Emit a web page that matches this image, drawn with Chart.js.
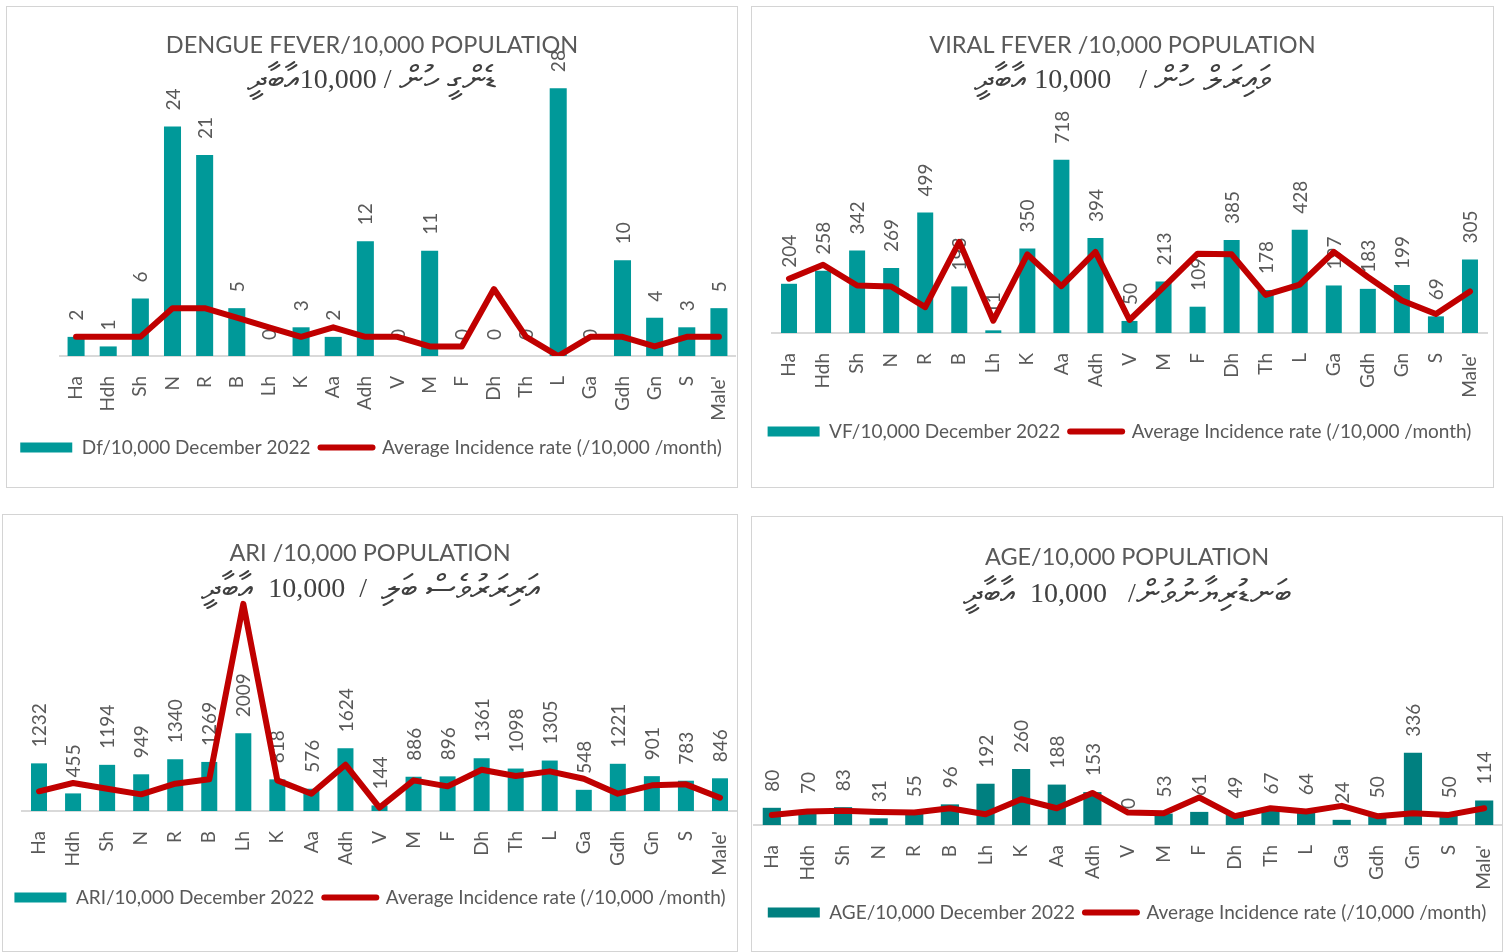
<!DOCTYPE html>
<html>
<head>
<meta charset="utf-8">
<script src="https://cdn.jsdelivr.net/npm/chart.js@4.4.1/dist/chart.umd.min.js"></script>
<style>
  body { margin: 0; background: #fff; width: 1503px; height: 952px; overflow: hidden; position: relative; }
  .panel { position: absolute; border: 1px solid #d4d4d4; box-sizing: border-box; background: #fff; }
  .panel canvas { display: block; }
</style>
</head>
<body>
<div class="panel" style="left:6px;top:6px;width:732px;height:482px"><canvas id="dengue" width="730" height="480"></canvas></div>
<div class="panel" style="left:751px;top:6px;width:743px;height:482px"><canvas id="viral" width="741" height="480"></canvas></div>
<div class="panel" style="left:2px;top:514px;width:736px;height:438px"><canvas id="ari" width="734" height="436"></canvas></div>
<div class="panel" style="left:751px;top:516px;width:752px;height:436px"><canvas id="age" width="750" height="434"></canvas></div>

<script>
// atolls / districts on the x axis
const districts = ['Ha', 'Hdh', 'Sh', 'N', 'R', 'B', 'Lh', 'K', 'Aa', 'Adh', 'V', 'M', 'F', 'Dh', 'Th', 'L', 'Ga', 'Gdh', 'Gn', 'S', "Male'"];

const avgLabel = 'Average Incidence rate (/10,000 /month)';

// dengue fever
const dfRate = [2, 1, 6, 24, 21, 5, 0, 3, 2, 12, 0, 11, 0, 0, 0, 28, 0, 10, 4, 3, 5];
const dfAverage = [2, 2, 2, 5, 5, 4, 3, 2, 3, 2, 2, 1, 1, 7, 2, 0, 2, 2, 1, 2, 2];

// viral fever
const vfRate = [204, 258, 342, 269, 499, 193, 11, 350, 718, 394, 50, 213, 109, 385, 178, 428, 197, 183, 199, 69, 305];
const vfAverage = [225, 283, 197, 193, 107, 378, 51, 326, 194, 336, 54, 190, 329, 326, 158, 201, 336, 232, 135, 79, 172];

// ARI
const ariRate = [1232, 455, 1194, 949, 1340, 1269, 2009, 818, 576, 1624, 144, 886, 896, 1361, 1098, 1305, 548, 1221, 901, 783, 846];
const ariAverage = [509, 724, 577, 431, 706, 819, 5358, 793, 448, 1197, 86, 793, 638, 1068, 904, 1025, 835, 448, 663, 689, 344];

// AGE
const ageRate = [80, 70, 83, 31, 55, 96, 192, 260, 188, 153, 0, 53, 61, 49, 67, 64, 24, 50, 336, 50, 114];
const ageAverage = [47, 63, 66, 61, 58, 78, 50, 120, 78, 149, 58, 55, 128, 41, 78, 63, 89, 41, 55, 47, 78];

// dhivehi subtitles, pieces in the order they appear from left to right
const dfSub = ['އާބާދީ', '10,000', ' / ', 'ޑެންގީ ހުން'];
const vfSub = ['އާބާދީ', ' 10,000', '    / ', 'ވައިރަލް ހުން'];
const ariSub = ['އާބާދީ', '  10,000', '  /  ', 'އަރިރަރުވެސް ބަލި'];
const ageSub = ['އާބާދީ', '  10,000', '   /', 'ބަނޑުރިޔާނުވުން'];

const grey = '#595959';
const thaana = /[\u0780-\u07BF]/;

// value labels, rotated, sitting above each bar
const barLabels = {
  id: 'barLabels',
  afterDatasetDraw(chart, args) {
    const ds = chart.data.datasets[args.index];
    if (ds.type === 'line') return;
    const ctx = chart.ctx;
    ctx.save();
    ctx.font = '19px Lato';
    ctx.fillStyle = grey;
    ctx.textAlign = 'left';
    ctx.textBaseline = 'middle';
    args.meta.data.forEach((bar, i) => {
      ctx.save();
      ctx.translate(bar.x + 1, bar.y - 16);
      ctx.rotate(-Math.PI / 2);
      ctx.fillText(String(ds.data[i]), 0, 0);
      ctx.restore();
    });
    ctx.restore();
  }
};

// english title + dhivehi subtitle, overlapping the plot like in excel
const heading = {
  id: 'heading',
  beforeDatasetsDraw(chart, args, opts) {
    const ctx = chart.ctx;
    const cx = chart.width / 2;
    ctx.save();
    ctx.textAlign = 'center';
    ctx.textBaseline = 'middle';
    ctx.fillStyle = grey;
    ctx.font = '23.5px Lato';
    ctx.fillText(opts.title, cx, opts.titleY);

    ctx.fillStyle = '#404040';
    ctx.textAlign = 'left';
    const fontFor = s => thaana.test(s) ? '34px "Liberation Serif", serif' : '28px "Liberation Serif", serif';
    let total = 0;
    const widths = opts.subtitle.map(s => { ctx.font = fontFor(s); const w = ctx.measureText(s).width; total += w; return w; });
    let x = cx - total / 2;
    opts.subtitle.forEach((s, i) => {
      ctx.font = fontFor(s);
      ctx.direction = thaana.test(s) ? 'rtl' : 'ltr';
      ctx.fillText(s, x, opts.subY);
      x += widths[i];
    });
    ctx.restore();
  }
};

function legendItems(chart) {
  const items = Chart.defaults.plugins.legend.labels.generateLabels(chart);
  items.forEach(it => {
    const ds = chart.data.datasets[it.datasetIndex];
    if (ds.type === 'line') {
      it.pointStyle = 'line';
      it.lineWidth = 6;
      it.strokeStyle = ds.borderColor;
      it.lineCap = 'round';
    } else {
      it.pointStyle = 'rect';
      it.lineWidth = 0;
      it.fillStyle = ds.backgroundColor;
    }
  });
  return items;
}

function drawChart(id, o) {
  return new Chart(document.getElementById(id), {
    type: 'bar',
    data: {
      labels: districts,
      datasets: [
        {
          label: o.barLabel,
          data: o.rate,
          backgroundColor: o.barColor,
          categoryPercentage: o.barPct,
          barPercentage: 1,
          order: 2
        },
        {
          type: 'line',
          label: avgLabel,
          data: o.average,
          borderColor: '#C00000',
          backgroundColor: '#C00000',
          borderWidth: 6,
          borderJoinStyle: 'round',
          borderCapStyle: 'round',
          pointRadius: 0,
          pointHoverRadius: 0,
          tension: 0,
          order: 1
        }
      ]
    },
    options: {
      responsive: false,
      animation: false,
      layout: { padding: { top: o.top, right: o.right, bottom: o.bottom, left: 0 } },
      plugins: {
        tooltip: { enabled: false },
        legend: {
          position: 'bottom',
          labels: {
            usePointStyle: true,
            pointStyleWidth: 52,
            boxHeight: 10,
            padding: 10,
            color: grey,
            font: { family: 'Lato', size: 19 },
            generateLabels: legendItems,
            sort: (a, b) => a.datasetIndex - b.datasetIndex
          }
        },
        heading: o.heading
      },
      scales: {
        x: {
          grid: { display: false },
          border: { display: true, color: '#d9d9d9', width: 2 },
          ticks: {
            color: grey,
            font: { family: 'Lato', size: 19 },
            minRotation: 90,
            maxRotation: 90,
            autoSkip: false,
            padding: 12
          },
          afterFit: s => { s.height = o.axisHeight; s.paddingLeft = 0; s.paddingRight = 0; }
        },
        y: {
          min: 0,
          max: o.max,
          grid: { display: false },
          border: { display: false },
          ticks: { display: false },
          afterFit: s => { s.width = o.left; }
        }
      }
    },
    plugins: [barLabels, heading]
  });
}

drawChart('dengue', {
  barLabel: 'Df/10,000 December 2022', rate: dfRate, average: dfAverage,
  barColor: '#009999', barPct: 0.53, max: 30, axisHeight: 72,
  top: 62, left: 53, right: 2, bottom: 20,
  heading: { title: 'DENGUE FEVER/10,000 POPULATION', subtitle: dfSub, titleY: 38, subY: 74 }
});

drawChart('viral', {
  barLabel: 'VF/10,000 December 2022', rate: vfRate, average: vfAverage,
  barColor: '#009999', barPct: 0.47, max: 800, axisHeight: 79,
  top: 133, left: 20, right: 6, bottom: 36,
  heading: { title: 'VIRAL FEVER /10,000 POPULATION', subtitle: vfSub, titleY: 38, subY: 74 }
});

drawChart('ari', {
  barLabel: 'ARI/10,000 December 2022', rate: ariRate, average: ariAverage,
  barColor: '#009999', barPct: 0.47, max: 6000, axisHeight: 67,
  top: 64, left: 19, right: 0, bottom: 34,
  heading: { title: 'ARI /10,000 POPULATION', subtitle: ariSub, titleY: 38, subY: 75 }
});

drawChart('age', {
  barLabel: 'AGE/10,000 December 2022', rate: ageRate, average: ageAverage,
  barColor: '#008080', barPct: 0.51, max: 400, axisHeight: 68,
  top: 222, left: 2, right: 0, bottom: 19,
  heading: { title: 'AGE/10,000 POPULATION', subtitle: ageSub, titleY: 40, subY: 78 }
});
</script>
</body>
</html>
